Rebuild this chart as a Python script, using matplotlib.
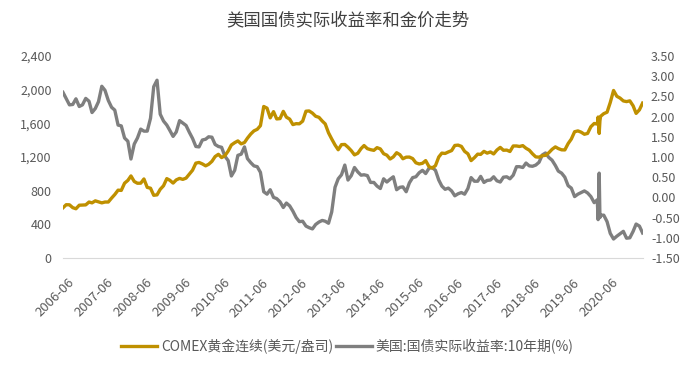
import pandas as pd
import matplotlib.pyplot as plt
import matplotlib.dates as mdates
import matplotlib.transforms as mtransforms
from matplotlib.ticker import FuncFormatter

plt.rcParams["font.family"] = ["Noto Sans CJK SC", "DejaVu Sans"]

title = "美国国债实际收益率和金价走势"
gold_label = "COMEX黄金连续(美元/盎司)"
yield_label = "美国:国债实际收益率:10年期(%)"

# monthly readings, 2006-06 .. 2021-05
months = pd.date_range("2006-06-01", periods=180, freq="MS")

gold = [
    596, 633, 632, 598, 585, 627, 629,
    631, 665, 655, 679, 667, 655, 665, 665, 712, 754, 806, 803,
    889, 922, 975, 909, 888, 889, 939, 839, 829, 745, 750, 816,
    858, 943, 924, 890, 928, 946, 934, 949, 996, 1043, 1127, 1135,
    1118, 1095, 1113, 1148, 1205, 1232, 1193, 1215, 1271, 1343, 1370, 1391,
    1356, 1372, 1424, 1473, 1510, 1529, 1572, 1800, 1780, 1665, 1739, 1652,
    1656, 1742, 1673, 1650, 1585, 1596, 1594, 1626, 1744, 1747, 1721, 1684,
    1671, 1627, 1593, 1487, 1414, 1343, 1286, 1347, 1349, 1316, 1275, 1225,
    1244, 1300, 1336, 1299, 1287, 1279, 1311, 1296, 1239, 1222, 1176, 1201,
    1251, 1227, 1179, 1198, 1199, 1181, 1131, 1117, 1125, 1157, 1086, 1068,
    1097, 1200, 1246, 1242, 1260, 1276, 1337, 1341, 1326, 1267, 1238, 1157,
    1192, 1234, 1231, 1267, 1246, 1260, 1236, 1283, 1314, 1280, 1282, 1265,
    1331, 1331, 1325, 1335, 1304, 1281, 1238, 1201, 1198, 1215, 1220, 1250,
    1291, 1320, 1300, 1285, 1284, 1359, 1413, 1500, 1510, 1495, 1470, 1480,
    1560, 1598, 1591, 1683, 1715, 1732, 1847, 1990, 1921, 1900, 1866, 1858,
    1867, 1808, 1718, 1760, 1840,
]

real_yield = [
    2.60, 2.45, 2.29, 2.30, 2.44, 2.25, 2.29,
    2.45, 2.38, 2.10, 2.20, 2.37, 2.75, 2.65, 2.40, 2.23, 2.16, 1.79, 1.77,
    1.47, 1.39, 0.95, 1.32, 1.47, 1.69, 1.64, 1.64, 1.96, 2.74, 2.90, 2.06,
    1.89, 1.79, 1.66, 1.51, 1.62, 1.90, 1.84, 1.78, 1.61, 1.46, 1.26, 1.25,
    1.42, 1.44, 1.50, 1.49, 1.31, 1.26, 1.24, 1.02, 0.91, 0.53, 0.67, 1.04,
    1.07, 1.25, 0.96, 0.86, 0.78, 0.76, 0.62, 0.14, 0.08, 0.19, 0.00, -0.03,
    -0.11, -0.25, -0.14, -0.21, -0.34, -0.50, -0.60, -0.59, -0.71, -0.75, -0.78, -0.67,
    -0.61, -0.57, -0.59, -0.64, -0.36, 0.25, 0.46, 0.56, 0.80, 0.43, 0.54, 0.74,
    0.63, 0.55, 0.56, 0.54, 0.37, 0.37, 0.28, 0.22, 0.46, 0.38, 0.45, 0.51,
    0.19, 0.25, 0.26, 0.14, 0.36, 0.49, 0.51, 0.61, 0.67, 0.59, 0.72, 0.74,
    0.67, 0.43, 0.28, 0.20, 0.23, 0.16, 0.04, 0.09, 0.12, 0.08, 0.22, 0.49,
    0.40, 0.40, 0.52, 0.37, 0.42, 0.43, 0.51, 0.41, 0.38, 0.50, 0.51, 0.46,
    0.55, 0.76, 0.76, 0.74, 0.85, 0.78, 0.77, 0.80, 0.87, 1.05, 1.10, 0.99,
    0.92, 0.79, 0.65, 0.60, 0.50, 0.29, 0.23, 0.02, 0.08, 0.12, 0.16, 0.11,
    0.02, -0.13, -0.06, -0.44, -0.44, -0.60, -0.89, -1.03, -0.96, -0.90, -0.84, -1.01,
    -1.00, -0.84, -0.66, -0.71, -0.88,
]

# March 2020 liquidity squeeze, daily readings
spike_dates = pd.to_datetime(["2020-03-09", "2020-03-19", "2020-03-26"])
gold_spike = [1675, 1480, 1630]
yield_spike = [-0.55, 0.60, -0.50]

left_ticks = [0, 400, 800, 1200, 1600, 2000, 2400]
right_ticks = [-1.5, -1.0, -0.5, 0.0, 0.5, 1.0, 1.5, 2.0, 2.5, 3.0, 3.5]
tick_years = list(range(2006, 2021))

gold_color = "#BF9000"
gray_color = "#7F7F7F"
text_color = "#595959"


def main():
    df = pd.DataFrame({"date": months, "gold": gold, "real_yield": real_yield})
    spike = pd.DataFrame({"date": spike_dates, "gold": gold_spike, "real_yield": yield_spike})
    df = pd.concat([df, spike], ignore_index=True).sort_values("date")

    fig = plt.figure(figsize=(6.95, 3.7), dpi=100)
    ax = fig.add_axes([0.0906, 0.3027, 0.834, 0.546])
    ax2 = ax.twinx()

    l1, = ax.plot(df["date"], df["gold"], color=gold_color, lw=2.4, label=gold_label)
    l2, = ax2.plot(df["date"], df["real_yield"], color=gray_color, lw=2.4, label=yield_label)
    ax.set_zorder(ax2.get_zorder() + 1)
    ax.patch.set_visible(False)

    ax.set_ylim(left_ticks[0], left_ticks[-1])
    ax.set_yticks(left_ticks)
    ax.yaxis.set_major_formatter(FuncFormatter(lambda v, p: f"{int(v):,}"))
    ax2.set_ylim(right_ticks[0], right_ticks[-1])
    ax2.set_yticks(right_ticks)
    ax2.yaxis.set_major_formatter(FuncFormatter(lambda v, p: f"{v:.2f}"))

    ax.set_xlim(df["date"].min(), df["date"].max())
    ax.set_xticks([pd.Timestamp(f"{y}-06-01") for y in tick_years])
    ax.xaxis.set_major_formatter(mdates.DateFormatter("%Y-%m"))

    for a in (ax, ax2):
        for s in a.spines.values():
            s.set_visible(False)
        a.tick_params(length=0, colors=text_color, labelsize=9)
    ax.spines["bottom"].set_visible(True)
    ax.spines["bottom"].set_color("#D9D9D9")
    ax.tick_params(axis="y", pad=8)
    ax2.tick_params(axis="y", pad=6)
    ax.tick_params(axis="x", pad=13, labelsize=9.5)
    shift = mtransforms.ScaledTranslation(0.05, 0, fig.dpi_scale_trans)
    for lab in ax.get_xticklabels():
        lab.set_rotation(45)
        lab.set_ha("right")
        lab.set_rotation_mode("anchor")
        lab.set_transform(lab.get_transform() + shift)

    fig.text(0.5, 0.945, title, ha="center", va="center", fontsize=12.5, color="#404040")
    fig.legend([l1, l2], [gold_label, yield_label], loc="center", bbox_to_anchor=(0.5, 0.063),
               ncol=2, frameon=False, fontsize=10, handlelength=2.6, handletextpad=0.25,
               columnspacing=0.25, labelcolor=text_color)

    fig.savefig("out.png", dpi=100)


if __name__ == "__main__":
    main()
